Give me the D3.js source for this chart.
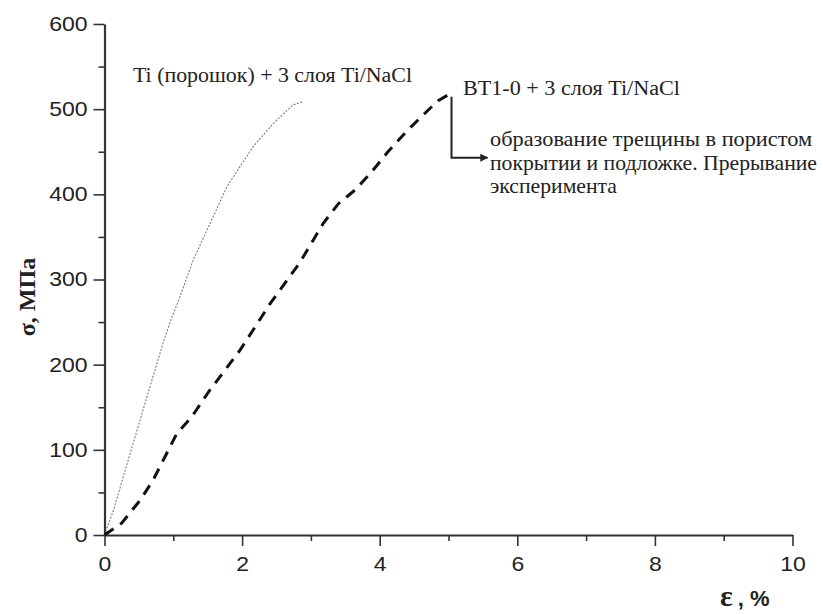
<!DOCTYPE html>
<html>
<head>
<meta charset="utf-8">
<script src="https://cdn.jsdelivr.net/npm/d3@7"></script>
<style>
    body { margin: 0; background: #fff; }
    svg { display: block; }
    .serif { font-family: "Liberation Serif", "DejaVu Serif", serif; }
    .sans { font-family: "Liberation Sans", Arial, sans-serif; }
</style>
</head>
<body>
<svg id="chart"></svg>
<script>
// Ti (порошок) + 3 слоя Ti/NaCl
const tiPowderStrain = [0, 0.13, 0.56, 0.85, 0.98, 1.08, 1.29, 1.78, 2.16, 2.45, 2.74, 2.89];
const tiPowderStress = [0, 29, 147, 225, 256, 276, 323, 409, 456, 483, 505, 509];

// ВТ1-0 + 3 слоя Ti/NaCl
const vt1Strain = [0, 0.25, 0.52, 0.71, 1.05, 1.27, 1.53, 1.97, 2.41, 2.84, 3.18, 3.40, 3.64, 3.88, 4.12, 4.39, 4.68, 4.85, 5.0];
const vt1Stress = [0, 14, 41, 65, 119, 139, 170, 217, 272, 320, 366, 389, 405, 426, 450, 474, 497, 510, 517];

const xTicks = [0, 2, 4, 6, 8, 10];
const xMinorTicks = [1, 3, 5, 7, 9];
const yTicks = [0, 100, 200, 300, 400, 500, 600];
const yMinorTicks = [50, 150, 250, 350, 450, 550];

const seriesLabels = ['Ti (порошок) + 3 слоя Ti/NaCl', 'BT1-0 + 3 слоя Ti/NaCl'];
const noteLines = ['образование трещины в пористом', 'покрытии и подложке. Прерывание', 'эксперимента'];

const WIDTH = 823;
const HEIGHT = 614;
const AXIS_COLOR = '#333';
const TEXT_COLOR = '#222';

const svg = d3.select('#chart')
    .attr('width', WIDTH)
    .attr('height', HEIGHT);

const xScale = d3.scaleLinear().domain([0, 10]).range([104.5, 792.5]);
const yScale = d3.scaleLinear().domain([0, 600]).range([535, 24]);

// minor ticks first, then major axes on top
svg.append('g')
    .attr('transform', 'translate(0,' + yScale(0) + ')')
    .call(d3.axisBottom(xScale).tickValues(xMinorTicks).tickSize(6).tickSizeOuter(0).tickFormat(''))
    .call(g => g.select('.domain').remove());
svg.append('g')
    .attr('transform', 'translate(' + xScale(0) + ',0)')
    .call(d3.axisLeft(yScale).tickValues(yMinorTicks).tickSize(6).tickSizeOuter(0).tickFormat(''))
    .call(g => g.select('.domain').remove());

const xAxis = svg.append('g')
    .attr('transform', 'translate(0,' + yScale(0) + ')')
    .call(d3.axisBottom(xScale).tickValues(xTicks).tickSize(11).tickSizeOuter(0).tickPadding(11).tickFormat(d3.format('d')));
const yAxis = svg.append('g')
    .attr('transform', 'translate(' + xScale(0) + ',0)')
    .call(d3.axisLeft(yScale).tickValues(yTicks).tickSize(11).tickSizeOuter(0).tickPadding(6).tickFormat(d3.format('d')));

svg.selectAll('.tick line').attr('stroke', AXIS_COLOR).attr('stroke-width', 1.6);
svg.selectAll('.domain').attr('stroke', AXIS_COLOR).attr('stroke-width', 2.2);

// tick labels look a bit wide in the original, stretch them horizontally
xAxis.selectAll('.tick text')
    .attr('class', 'sans').attr('font-size', 20).attr('fill', TEXT_COLOR)
    .attr('transform', 'scale(1.15,1)');
yAxis.selectAll('.tick text')
    .attr('class', 'sans').attr('font-size', 20).attr('fill', TEXT_COLOR)
    .attr('x', 0)
    .attr('transform', 'translate(-17,0) scale(1.15,1)');
svg.selectAll('g').attr('font-family', null);

// curves
const line = d3.line()
    .x(d => xScale(d[0]))
    .y(d => yScale(d[1]));

const tiData = tiPowderStrain.map((x, i) => [x, tiPowderStress[i]]);
const vtData = vt1Strain.map((x, i) => [x, vt1Stress[i]]);

svg.append('path')
    .datum(tiData)
    .attr('d', line)
    .attr('fill', 'none')
    .attr('stroke', '#7a7a7a')
    .attr('stroke-width', 1.1)
    .attr('stroke-dasharray', '2,1.5');

svg.append('path')
    .datum(vtData)
    .attr('d', line)
    .attr('fill', 'none')
    .attr('stroke', '#111')
    .attr('stroke-width', 3)
    .attr('stroke-dasharray', '11,8');

// series labels
svg.append('text')
    .attr('class', 'serif')
    .attr('x', 133).attr('y', 82)
    .attr('font-size', 20).attr('fill', TEXT_COLOR)
    .attr('textLength', 279).attr('lengthAdjust', 'spacingAndGlyphs')
    .text(seriesLabels[0]);
svg.append('text')
    .attr('class', 'serif')
    .attr('x', 463).attr('y', 95)
    .attr('font-size', 20).attr('fill', TEXT_COLOR)
    .attr('textLength', 217).attr('lengthAdjust', 'spacingAndGlyphs')
    .text(seriesLabels[1]);

// arrow from the end of the dashed curve to the note
svg.append('defs').append('marker')
    .attr('id', 'head')
    .attr('viewBox', '0 0 10 10')
    .attr('refX', 9).attr('refY', 5)
    .attr('markerWidth', 4).attr('markerHeight', 4)
    .attr('markerUnits', 'strokeWidth')
    .attr('orient', 'auto')
    .append('path')
    .attr('d', 'M0,0L10,5L0,10z')
    .attr('fill', TEXT_COLOR);

const endPt = vtData[vtData.length - 1];
const ax = xScale(endPt[0]) + 3;
const elbowY = yScale(443);
svg.append('path')
    .attr('d', 'M' + ax + ',' + (yScale(endPt[1]) + 2) + 'V' + elbowY + 'H' + (ax + 36))
    .attr('fill', 'none')
    .attr('stroke', TEXT_COLOR)
    .attr('stroke-width', 2)
    .attr('marker-end', 'url(#head)');

const noteWidths = [322, 327, 127];
const noteY = [146, 169.5, 193];
noteLines.forEach((t, i) => {
    svg.append('text')
        .attr('class', 'serif')
        .attr('x', 490).attr('y', noteY[i])
        .attr('font-size', 21).attr('fill', TEXT_COLOR)
        .attr('textLength', noteWidths[i]).attr('lengthAdjust', 'spacingAndGlyphs')
        .text(t);
});

// axis titles
svg.append('text')
    .attr('class', 'serif')
    .attr('transform', 'translate(35,297) rotate(-90)')
    .attr('text-anchor', 'middle')
    .attr('font-size', 24).attr('font-weight', 'bold').attr('fill', TEXT_COLOR)
    .text('σ, МПа');

const xTitle = svg.append('text')
    .attr('x', 720).attr('y', 606)
    .attr('font-weight', 'bold').attr('fill', TEXT_COLOR);
xTitle.append('tspan').attr('class', 'serif').attr('font-size', 30).text('ε');
xTitle.append('tspan').attr('class', 'sans').attr('font-size', 22).attr('dx', 5).text(', %');
</script>
</body>
</html>
